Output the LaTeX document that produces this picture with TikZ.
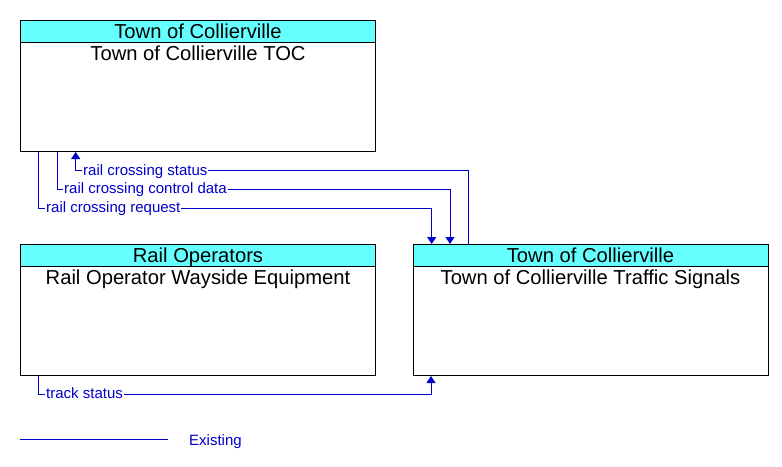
\documentclass[tikz,border=0pt]{standalone}
\usepackage{fontspec}
\setmainfont{Liberation Sans}
\usetikzlibrary{arrows.meta,calc}
\definecolor{flow}{RGB}{0,0,204}
\definecolor{hdr}{RGB}{102,255,255}
\begin{document}
\begin{tikzpicture}[x=1pt,y=-1pt,
  box/.style={draw=black,line width=1pt,fill=white,minimum width=355pt,minimum height=131pt,anchor=north west,inner sep=0pt},
  hdrbox/.style={draw=black,line width=1pt,fill=hdr,minimum width=355pt,minimum height=22pt,anchor=north west,inner sep=0pt},
  boxtext/.style={font=\fontsize{20.2}{23}\selectfont,anchor=base,inner sep=0pt},
  flowline/.style={draw=flow,line width=1pt,-{Triangle[width=9pt,length=7pt]}},
  flowlab/.style={font=\fontsize{15}{17}\selectfont,text=flow,fill=white,inner xsep=1pt,inner ysep=1pt,anchor=base west}]
\useasboundingbox (0,0) rectangle (782,466);
\fill[white] (0,0) rectangle (782,466);

% boxes
\node[box] (toc) at (20,20) {};
\node[hdrbox] (toch) at (toc.north west) {};
\node[boxtext] (toct) at ($(toc.north)+(0,18)$) {Town of Collierville};
\node[boxtext] (tocb) at ($(toc.north)+(0,40)$) {Town of Collierville TOC};

\node[box] (rail) at (20,244) {};
\node[hdrbox] (railh) at (rail.north west) {};
\node[boxtext] (railt) at ($(rail.north)+(0,18)$) {Rail Operators};
\node[boxtext] (railb) at ($(rail.north)+(0,40)$) {Rail Operator Wayside Equipment};

\node[box] (sig) at (412.5,244) {};
\node[hdrbox] (sigh) at (sig.north west) {};
\node[boxtext] (sigt) at ($(sig.north)+(0,18)$) {Town of Collierville};
\node[boxtext] (sigb) at ($(sig.north)+(0,40)$) {Town of Collierville Traffic Signals};

% flows
\draw[flowline] ($(sig.north west)+(56,0)$) -- ++(0,-74) -| ($(toc.south west)+(55.7,0)$);
\draw[flowline] ($(toc.south west)+(37.3,0)$) -- ++(0,37) -| ($(sig.north west)+(37.5,0)$);
\draw[flowline] ($(toc.south west)+(18.3,0)$) -- ++(0,56) -| ($(sig.north west)+(19.2,0)$);
\draw[flowline] ($(rail.south west)+(18.3,0)$) -- ++(0,18) -| ($(sig.south west)+(18.5,0)$);

\node[flowlab] (l1) at (82,175.3) {rail crossing status};
\node[flowlab] (l2) at (63,193.3) {rail crossing control data};
\node[flowlab] (l3) at (45,212.3) {rail crossing request};
\node[flowlab] (l4) at (45,398.6) {track status};

% legend
\coordinate (legA) at (20,439.3);
\coordinate (legB) at (168,439.3);
\draw[flow,line width=1pt] (legA) -- (legB);
\node[font=\fontsize{15}{17}\selectfont,text=flow,inner sep=0pt,anchor=base west] (legt) at (189,445.7) {Existing};
\end{tikzpicture}
\end{document}
